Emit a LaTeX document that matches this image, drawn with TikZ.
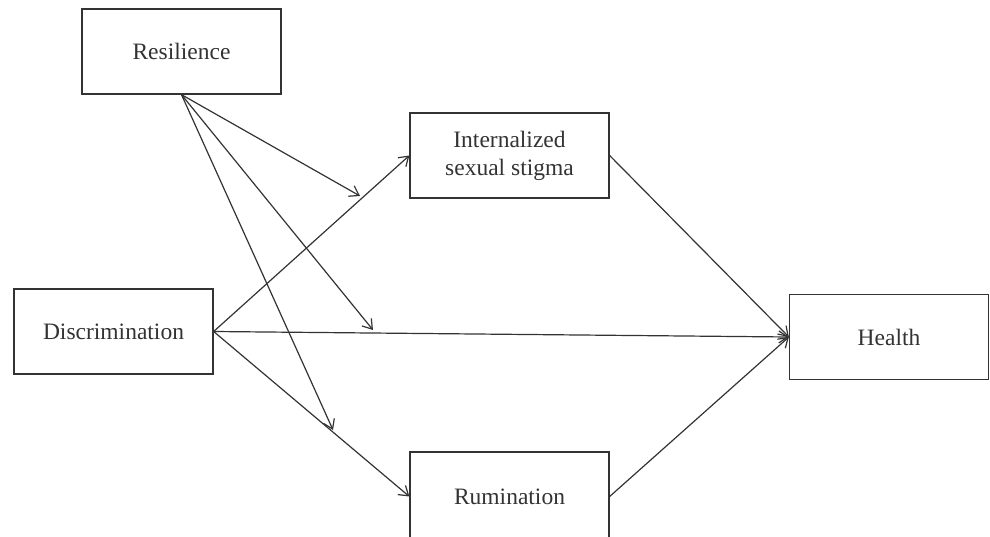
\documentclass[tikz,border=0pt]{standalone}
\usepackage{fontspec}
\setmainfont{Liberation Serif}
\usetikzlibrary{arrows.meta}
\definecolor{ink}{HTML}{333333}
\begin{document}
\begin{tikzpicture}[x=1pt,y=-1pt,
  box/.style={draw=ink, line width=1.3pt, minimum width=199pt, minimum height=85pt, inner sep=0pt,
    font=\fontsize{23.5}{28}\selectfont, text=ink, align=center},
  conn/.style={draw=ink, line width=1.2pt, -{Straight Barb[length=9pt,width=12pt,line width=1.2pt]}}]
\useasboundingbox (0,0) rectangle (990,537);
\clip (0,0) rectangle (990,537);
\node[box] (res) at (181.5,51.5) {Resilience};
\node[box] (int) at (509.5,155.5) {Internalized\\sexual stigma};
\node[box] (disc) at (113.5,331.5) {Discrimination};
\node[box] (hea) at (889,337) {Health};
\node[box, minimum height=89pt] (rum) at (509.5,496.5) {Rumination};
\coordinate (m1) at (360,196);
\coordinate (m2) at (373,330);
\coordinate (m3) at (333,430);
\draw[conn] (res.south) -- (m1);
\draw[conn] (res.south) -- (m2);
\draw[conn] (res.south) -- (m3);
\draw[conn] (disc.east) -- (int.west);
\draw[conn] (disc.east) -- (hea.west);
\draw[conn] (disc.east) -- (rum.west);
\draw[conn] (int.east) -- (hea.west);
\draw[conn] (rum.east) -- (hea.west);
\end{tikzpicture}
\end{document}
